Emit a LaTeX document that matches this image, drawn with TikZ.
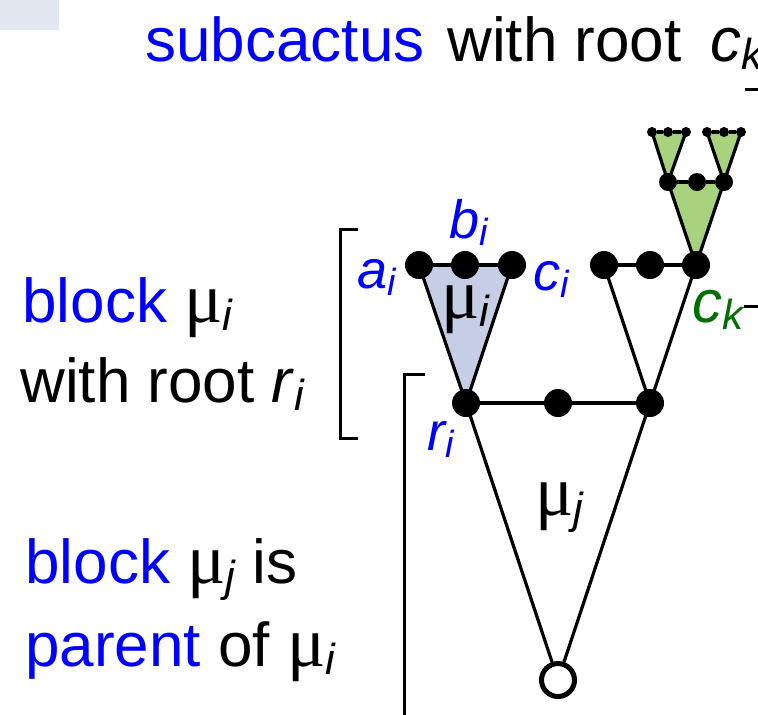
\documentclass[tikz,border=0pt]{standalone}
\usepackage{fontspec}
\usepackage{graphicx}
\setmainfont{Liberation Sans}
\newfontfamily\mufont{Liberation Serif}
\usetikzlibrary{backgrounds}
\definecolor{tblue}{RGB}{0,0,255}
\definecolor{tgreen}{RGB}{0,110,0}
\definecolor{bfill}{RGB}{197,206,228}
\definecolor{gfill}{RGB}{168,210,126}
\definecolor{cornerc}{RGB}{227,231,241}
\newcommand\mysub[1]{\raisebox{-0.13em}{\scalebox{0.7}{\itshape #1}}}
\newcommand\mmu{{\mufont\scalebox{1.15}{μ}}}
\begin{document}
\begin{tikzpicture}[x=0.5pt,y=-0.5pt,
  dot/.style={circle,fill=black,inner sep=0pt,minimum size=14pt},
  mdot/.style={circle,fill=black,inner sep=0pt,minimum size=9pt},
  sdot/.style={circle,fill=black,inner sep=0pt,minimum size=5pt},
  edge/.style={line width=1.6pt},
  brk/.style={line width=1.5pt},
  txt/.style={anchor=base west,inner sep=0pt,font=\fontsize{31}{37}\selectfont},
  lbl/.style={anchor=base west,inner sep=0pt,font=\fontsize{27}{32}\selectfont\itshape,text=tblue}]
\useasboundingbox (0,0) rectangle (758,714);
\clip (0,0) rectangle (758,714);
\fill[cornerc] (0,0) rectangle (59,30);
% nodes
\node[dot] (ai) at (419,265) {};
\node[dot] (bi) at (465,265) {};
\node[dot] (ci) at (512,265) {};
\node[dot] (ri) at (466,403) {};
\node[dot] (m1) at (558,403) {};
\node[dot] (rj) at (650,403) {};
\node[dot] (p1) at (604,265) {};
\node[dot] (p2) at (650,265) {};
\node[dot] (ck) at (696,265) {};
\node[mdot] (g1) at (668,182) {};
\node[mdot] (g2) at (697,182) {};
\node[mdot] (g3) at (724,182) {};
\node[sdot] (t1) at (652,132) {};
\node[sdot] (t2) at (668,132) {};
\node[sdot] (t3) at (686,132) {};
\node[sdot] (t4) at (707,132) {};
\node[sdot] (t5) at (724,132) {};
\node[sdot] (t6) at (741,132) {};
\node[circle,draw,line width=2.5pt,fill=white,inner sep=0pt,minimum size=16.5pt] (root) at (558,680) {};
% fills
\begin{pgfonlayer}{background}
\fill[bfill] (ai.center) -- (ci.center) -- (ri.center) -- cycle;
\fill[gfill] (g1.center) -- (g3.center) -- (ck.center) -- cycle;
\fill[gfill] (t1.center) -- (t3.center) -- (g1.center) -- cycle;
\fill[gfill] (t4.center) -- (t6.center) -- (g3.center) -- cycle;
\end{pgfonlayer}
% edges
\draw[edge] (ai) -- (bi) -- (ci);
\draw[edge] (ai.center) -- (ri.center);
\draw[edge] (ci.center) -- (ri.center);
\draw[edge] (ri) -- (m1) -- (rj);
\draw[edge] (p1) -- (p2) -- (ck);
\draw[edge] (p1.center) -- (rj.center);
\draw[edge] (ck.center) -- (rj.center);
\draw[edge] (ri.center) -- (root);
\draw[edge] (rj.center) -- (root);
\draw[edge] (g1) -- (g2) -- (g3);
\draw[edge] (g1.center) -- (ck.center);
\draw[edge] (g3.center) -- (ck.center);
\draw[edge] (t1) -- (t2) -- (t3);
\draw[edge] (t1.center) -- (g1.center);
\draw[edge] (t3.center) -- (g1.center);
\draw[edge] (t4) -- (t5) -- (t6);
\draw[edge] (t4.center) -- (g3.center);
\draw[edge] (t6.center) -- (g3.center);
% brackets
\draw[brk] (358,229) -- (340,229) -- (340,438) -- (358,438);
\draw[brk] (425,374) -- (404,374) -- (404,716) -- (425,716);
\draw[brk] (745,89) -- (760,89);
\draw[brk] (744,306) -- (760,306);
% texts
\node[txt,text=tblue] (t-sub) at (145,61) {subcactus};
\node[txt] (t-with) at (447,61) {with root};
\node[txt] (t-ck) at (710,61) {\textit{c}\mysub{k}};
\node[txt] (t-bi) at (22,322) {\textcolor{tblue}{block} \mmu\mysub{i}};
\node[txt] (t-wr) at (20,402) {with root \textit{r}\mysub{i}};
\node[txt] (t-bj) at (25,583) {\textcolor{tblue}{block} \mmu\mysub{j} is};
\node[txt] (t-po) at (25,666) {\textcolor{tblue}{parent} of \mmu\mysub{i}};
\node[lbl] (l-a) at (357,288) {a\mysub{i}};
\node[lbl] (l-b) at (449,238) {b\mysub{i}};
\node[lbl] (l-c) at (533,290) {c\mysub{i}};
\node[lbl] (l-r) at (427,450) {r\mysub{i}};
\node[lbl,text=tgreen,font=\fontsize{30}{36}\selectfont\itshape] (l-ck) at (692,322) {c\mysub{k}};
\node[txt] (l-mi) at (441,318) {\mmu\mysub{i}};
\node[txt] (l-mj) at (535,515) {\mmu\mysub{j}};
\end{tikzpicture}
\end{document}
